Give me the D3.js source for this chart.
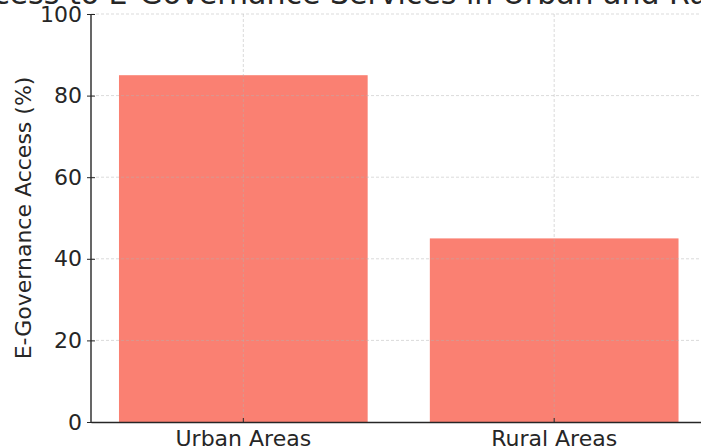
<!DOCTYPE html>
<html>
<head>
<meta charset="utf-8">
<script src="https://cdn.jsdelivr.net/npm/d3@7"></script>
<style>
  body { margin: 0; background: #fff; }
  svg { display: block; font-family: "DejaVu Sans", sans-serif; }
</style>
</head>
<body>
<div id="chart"></div>
<script>
// data
const categories = ["Urban Areas", "Rural Areas"];
const access = [85, 45];
const yTicks = [0, 20, 40, 60, 80, 100];

const width = 701, height = 447;
// plot area (right side of axes is cut off by the frame)
const margin = {top: 14, right: -5.5, bottom: 25, left: 91};

const svg = d3.select("#chart")
    .append("svg")
    .attr("width", width)
    .attr("height", height);

const x = d3.scaleBand()
    .domain(categories)
    .range([margin.left, width - margin.right])
    .paddingInner(0.2)
    .paddingOuter(0.09);

const y = d3.scaleLinear()
    .domain([0, 100])
    .range([height - margin.bottom, margin.top]);

const textColor = "#262626";

// title (partly outside the frame)
svg.append("text")
    .attr("x", (margin.left + width - margin.right) / 2)
    .attr("y", 4)
    .attr("text-anchor", "middle")
    .style("font-size", "30px")
    .attr("fill", textColor)
    .text("Access to E-Governance Services in Urban and Rural Areas");

// bars
svg.selectAll(".bar")
    .data(access)
    .join("rect")
    .attr("class", "bar")
    .attr("x", (d, i) => x(categories[i]))
    .attr("width", x.bandwidth())
    .attr("y", d => y(d))
    .attr("height", d => y(0) - y(d))
    .attr("fill", "#fa8072");

// grid lines on top of bars
const grid = svg.append("g")
    .attr("stroke", "#b0b0b0")
    .attr("stroke-opacity", 0.6)
    .attr("stroke-width", 0.8)
    .attr("stroke-dasharray", "3,2");

grid.selectAll(".hgrid")
    .data(yTicks.slice(1))
    .join("line")
    .attr("x1", margin.left)
    .attr("x2", width)
    .attr("y1", d => y(d))
    .attr("y2", d => y(d));

grid.selectAll(".vgrid")
    .data(categories)
    .join("line")
    .attr("x1", d => x(d) + x.bandwidth() / 2)
    .attr("x2", d => x(d) + x.bandwidth() / 2)
    .attr("y1", y(0))
    .attr("y2", y(100));

// y axis
const yAxis = svg.append("g")
    .attr("transform", `translate(${margin.left},0)`)
    .call(d3.axisLeft(y).tickValues(yTicks).tickSize(4).tickPadding(5));
yAxis.select(".domain").attr("stroke", textColor).attr("stroke-width", 1.4)
    .attr("d", `M0,${y(100)}V${y(0)}`);
yAxis.selectAll(".tick line").attr("stroke", textColor).attr("x2", -4).attr("x1", 4);
yAxis.selectAll(".tick text")
    .attr("fill", textColor)
    .style("font-size", "22px")
    .style("font-family", "DejaVu Sans, sans-serif");

// x axis
const xAxis = svg.append("g")
    .attr("transform", `translate(0,${y(0)})`)
    .call(d3.axisBottom(x).tickSizeInner(-4).tickSizeOuter(0).tickPadding(8));
xAxis.select(".domain").attr("stroke", textColor).attr("stroke-width", 1.4);
xAxis.selectAll(".tick line").attr("stroke", textColor);
xAxis.selectAll(".tick text")
    .attr("fill", textColor)
    .style("font-size", "22px")
    .style("font-family", "DejaVu Sans, sans-serif");

// y axis label
svg.append("text")
    .attr("transform", `translate(31,${(y(0) + y(100)) / 2}) rotate(-90)`)
    .attr("text-anchor", "middle")
    .style("font-size", "22px")
    .attr("fill", textColor)
    .text("E-Governance Access (%)");
</script>
</body>
</html>
